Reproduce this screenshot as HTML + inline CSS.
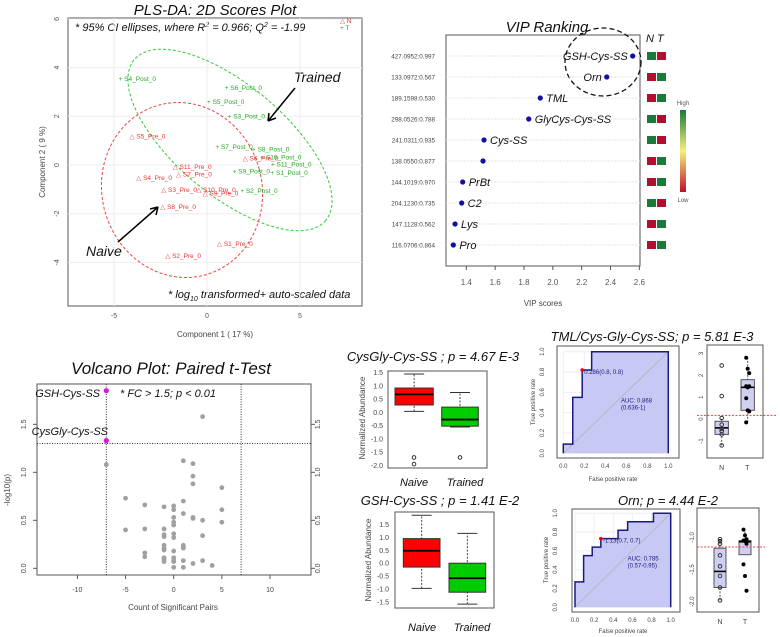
<!DOCTYPE html>
<html><head><meta charset="utf-8"><style>
html,body{margin:0;padding:0;background:#fff;}
svg{display:block;font-family:"Liberation Sans",sans-serif;}
.t{font-style:italic;fill:#111;}
.tk{font-size:7px;fill:#555;}
.ax{font-size:8px;fill:#444;}
</style></head><body>
<svg id="fig" width="780" height="637" viewBox="0 0 780 637" xmlns="http://www.w3.org/2000/svg">
<!-- PLS-DA -->
<text x="215" y="15" text-anchor="middle" class="t" font-size="15">PLS-DA: 2D Scores Plot</text>
<rect x="68" y="18" width="294" height="288" fill="none" stroke="#555"/>
<text x="75" y="31" class="t" font-size="11">* 95% CI ellipses, where R<tspan dy="-4" font-size="7">2</tspan><tspan dy="4"> = 0.966; Q</tspan><tspan dy="-4" font-size="7">2</tspan><tspan dy="4"> = -1.99</tspan></text>
<text x="294" y="82" class="t" font-size="14">Trained</text>
<text x="86" y="256" class="t" font-size="14">Naive</text>
<text x="168" y="298" class="t" font-size="11">* log<tspan dy="3" font-size="7">10</tspan><tspan dy="-3"> transformed+ auto-scaled data</tspan></text>
<text x="215" y="337" text-anchor="middle" class="ax">Component 1 ( 17 %)</text>
<text transform="translate(45,162) rotate(-90)" text-anchor="middle" class="ax">Component 2 ( 9 %)</text>
<text x="226" y="323" text-anchor="middle" fill="#333" font-size="7" font-style="italic"></text>
<!-- VIP -->
<text x="547" y="32" text-anchor="middle" class="t" font-size="15">VIP Ranking</text>
<rect x="446" y="35" width="194" height="231" fill="none" stroke="#555"/>
<text x="646" y="42" class="t" font-size="11">N  T</text>
<text x="543" y="306" text-anchor="middle" class="ax">VIP scores</text>
<defs><linearGradient id="cb" x1="0" y1="0" x2="0" y2="1"><stop offset="0" stop-color="#1a7a3a"/><stop offset="0.5" stop-color="#f4f27a"/><stop offset="1" stop-color="#c0102a"/></linearGradient></defs>
<rect x="680" y="110" width="6" height="82" fill="url(#cb)"/>
<text x="683" y="105" text-anchor="middle" font-size="6" fill="#555">High</text>
<text x="683" y="202" text-anchor="middle" font-size="6" fill="#555">Low</text>
<ellipse cx="603" cy="62" rx="38" ry="34" fill="none" stroke="#111" stroke-width="1.3" stroke-dasharray="5,3"/>
<!-- Volcano -->
<text x="171" y="374" text-anchor="middle" class="t" font-size="17">Volcano Plot: Paired t-Test</text>
<rect x="37" y="384" width="274" height="191" fill="none" stroke="#555"/>
<text x="120" y="397" class="t" font-size="11">* FC &gt; 1.5; p &lt; 0.01</text>
<text x="100" y="397" text-anchor="end" class="t" font-size="11">GSH-Cys-SS</text>
<text x="108" y="435" text-anchor="end" class="t" font-size="11">CysGly-Cys-SS</text>
<text x="173" y="610" text-anchor="middle" class="ax">Count of Significant Pairs</text>
<text transform="translate(10,490) rotate(-90)" text-anchor="middle" class="ax">-log10(p)</text>
<!-- Boxplots -->
<text x="433" y="361" text-anchor="middle" class="t" font-size="13">CysGly-Cys-SS ; p = 4.67 E-3</text>
<rect x="388" y="371" width="99" height="97" fill="none" stroke="#555"/>
<text transform="translate(365,418) rotate(-90)" text-anchor="middle" class="ax">Normalized Abundance</text>
<text x="414" y="486" text-anchor="middle" class="t" font-size="11">Naive</text>
<text x="465" y="486" text-anchor="middle" class="t" font-size="11">Trained</text>
<text x="440" y="505" text-anchor="middle" class="t" font-size="13">GSH-Cys-SS ; p = 1.41 E-2</text>
<rect x="395" y="512" width="99" height="96" fill="none" stroke="#555"/>
<text transform="translate(371,560) rotate(-90)" text-anchor="middle" class="ax">Normalized Abundance</text>
<text x="422" y="631" text-anchor="middle" class="t" font-size="11">Naive</text>
<text x="472" y="631" text-anchor="middle" class="t" font-size="11">Trained</text>
<!-- ROC -->
<text x="652" y="341" text-anchor="middle" class="t" font-size="13">TML/Cys-Gly-Cys-SS; p = 5.81 E-3</text>
<rect x="557" y="346" width="122" height="112" fill="none" stroke="#555"/>
<text x="613" y="481" text-anchor="middle" font-size="6" fill="#444">False positive rate</text>
<text transform="translate(535,402) rotate(-90)" text-anchor="middle" font-size="6" fill="#444">True positive rate</text>
<rect x="707" y="345" width="56" height="113" fill="none" stroke="#555"/>
<text x="668" y="505" text-anchor="middle" class="t" font-size="13">Orn; p = 4.44 E-2</text>
<rect x="572" y="509" width="108" height="103" fill="none" stroke="#555"/>
<text x="623" y="633" text-anchor="middle" font-size="6" fill="#444">False positive rate</text>
<text transform="translate(548,560) rotate(-90)" text-anchor="middle" font-size="6" fill="#444">True positive rate</text>
<rect x="697" y="508" width="62" height="104" fill="none" stroke="#555"/>
<g id="marks"></g>
</svg>
<script>
const NS='http://www.w3.org/2000/svg';
const G=document.getElementById('marks');
// ---------- PLS-DA data ----------
const plsNames=['S4','S6','S5','S3','S7','S8','S10','S11','S9','S1','S2'];
const postX=[-4.59,1.11,0.16,1.27,0.61,2.58,3.03,3.6,1.54,3.57,1.95];
const postY=[3.56,3.18,2.6,2.02,0.77,0.66,0.32,0.04,-0.25,-0.3,-1.05];
const preNames=['S5','S11','S7','S4','S3','S10','S9','S8','S1','S2','S6'];
const preX=[-4.0,-1.68,-1.5,-3.64,-2.3,-0.41,-0.07,-2.35,0.7,-2.08,2.08];
const preY=[1.19,-0.07,-0.36,-0.51,-1.01,-1.01,-1.16,-1.7,-3.22,-3.71,0.29];
const plsXTicks=[-5,0,5];
const plsYTicks=[6,4,2,0,-2,-4];
// ---------- VIP data ----------
const vipIds=['427.0952:0.997','133.0972:0.567','189.1598:0.530','298.0526:0.788','241.0311:0.935','138.0550:0.877','144.1019:0.970','204.1230:0.735','147.1128:0.562','116.0706:0.864'];
const vipScores=[2.554,2.374,1.913,1.833,1.523,1.516,1.375,1.368,1.322,1.31];
const vipLabels=['GSH-Cys-SS','Orn','TML','GlyCys-Cys-SS','Cys-SS','','PrBt','C2','Lys','Pro'];
const vipNHigh=[1,0,0,1,1,0,0,1,0,0];
const vipTicks=[1.4,1.6,1.8,2.0,2.2,2.4,2.6];
// ---------- Volcano data ----------
const volX=[3,-7,1,2,2,2,5,-5,1,-3,-1,0,0,5,1,0,2,2,3,0,0,5,-5,-3,-1,0,-1,-1,0,3,-1,-1,-1,1,1,1,0,-3,-3,-1,-1,-1,0,0,0,1,2,3,4,0,1];
const volY=[1.58,1.08,1.12,1.09,0.96,0.88,0.84,0.73,0.70,0.66,0.64,0.65,0.61,0.61,0.57,0.53,0.53,0.52,0.50,0.48,0.45,0.48,0.40,0.41,0.41,0.36,0.35,0.33,0.32,0.34,0.24,0.21,0.19,0.24,0.22,0.21,0.18,0.16,0.12,0.11,0.09,0.07,0.11,0.08,0.07,0.08,0.05,0.08,0.03,0.01,0.01];
const sigX=[-7,-7];
const sigY=[1.85,1.33];
const volXTicks=[-10,-5,0,5,10];
const volYTicks=[0,0.5,1.0,1.5];
// ---------- Boxplot data: [lowWhisker, Q1, median, Q3, highWhisker] ----------
const box1Naive=[0.04,0.28,0.68,0.92,1.45];
const box1Trained=[-0.55,-0.52,-0.27,0.2,0.75];
const box1NaiveOut=[-1.7,-1.95];
const box1TrainedOut=[-1.7];
const box1Ticks=[1.5,1.0,0.5,0.0,-0.5,-1.0,-1.5,-2.0];
const box2Naive=[-0.97,-0.15,0.48,0.95,1.85];
const box2Trained=[-1.58,-1.12,-0.58,0,1.15];
const box2Ticks=[1.5,1.0,0.5,0.0,-0.5,-1.0,-1.5];
// ---------- ROC data ----------
const roc1FPR=[0,0,0.09,0.09,0.18,0.18,0.27,0.27,1];
const roc1TPR=[0,0.09,0.09,0.55,0.55,0.82,0.82,1,1];
const roc2FPR=[0,0,0.09,0.09,0.18,0.18,0.27,0.27,0.45,0.45,0.55,0.55,0.82,0.82,1];
const roc2TPR=[0,0.27,0.27,0.55,0.55,0.64,0.64,0.73,0.73,0.82,0.82,0.91,0.91,1,1];
const rocTicks=[0,0.2,0.4,0.6,0.8,1.0];
// ---------- Strip data ----------
const strip1N=[2.45,1.05,0.05,-0.25,-0.45,-0.55,-0.7,-1.2];
const strip1T=[2.8,2.3,2.1,1.5,1.45,1.5,0.95,0.4,0.35,-0.15];
const strip1NBox=[-1.2,-0.7,-0.4,-0.1,0.05];
const strip1TBox=[-0.15,0.4,1.45,1.8,2.8];
const strip1Cut=[0.17];
const strip1Ticks=[3,2,1,0,-1];
const strip2N=[-1.03,-1.06,-1.1,-1.28,-1.45,-1.6,-1.78,-1.98];
const strip2T=[-0.88,-0.97,-1.03,-1.05,-1.06,-1.1,-1.42,-1.6,-1.83];
const strip2NBox=[-1.98,-1.78,-1.53,-1.17,-1.03];
const strip2TBox=[-1.27,-1.27,-1.07,-1.05,-0.88];
const strip2Cut=[-1.15];
const strip2Ticks=[-1.0,-1.5,-2.0];

function mk(tag,a){const e=document.createElementNS(NS,tag);for(const k in a)e.setAttribute(k,a[k]);G.appendChild(e);return e;}
function txt(x,y,s,a){const e=mk('text',Object.assign({x:x,y:y},a));e.textContent=s;return e;}

// scales
const sx=v=>207+18.6*v, sy=v=>165-24.35*v;
const vx=v=>466.3+(v-1.4)*144.2, vr=i=>56+i*21;
const wx=v=>173.7+9.63*v, wy=v=>568.3-96*v;
const b1y=v=>412.4-26.5*v, b2y=v=>563.2-25.9*v;
const r1x=v=>563.3+105*v, r1y=v=>453.3-101.6*v;
const r2x=v=>575+95.7*v, r2y=v=>607.3-94*v;
const s1y=v=>419.1-21.9*v, s2y=v=>537.3-(v+1)*64.4;

// ===== PLS-DA =====
plsXTicks.forEach(t=>{
  const l=mk('line',{x1:sx(t),x2:sx(t),y1:18,y2:306,stroke:'#eee'});
  
  
  const k=txt(sx(t),318,String(t),{'text-anchor':'middle',class:'tk'});
  
  
});
plsYTicks.forEach(t=>{
  const l=mk('line',{x1:68,x2:362,y1:sy(t),y2:sy(t),stroke:'#eee'});
  
  
  const k=txt(0,0,String(t),{'text-anchor':'middle',class:'tk',transform:`translate(59,${sy(t)}) rotate(-90)`});
  
  
});
const eg=mk('ellipse',{cx:230,cy:140,rx:125,ry:55,transform:'rotate(40 230 140)',fill:'none',stroke:'#3c3','stroke-dasharray':'3,2'});


const er=mk('ellipse',{cx:182,cy:190,rx:80,ry:88,transform:'rotate(-15 182 190)',fill:'none',stroke:'#e44','stroke-dasharray':'3,2'});


postX.forEach((v,i)=>{
  const t=txt(sx(v)-3,sy(postY[i])+2.5,'+ '+plsNames[i]+'_Post_0',{'font-size':6.5,fill:'#2a2'});
  
  
});
preX.forEach((v,i)=>{
  const t=txt(sx(v)-3,sy(preY[i])+2.5,'\u25B3 '+preNames[i]+'_Pre_0',{'font-size':6.5,fill:'#e33'});
  
  
});
const a1=mk('path',{d:'M295 88 L268 121 M268 121 l1 -8 M268 121 l8 -3',stroke:'#000','stroke-width':1.5,fill:'none'});


const a2=mk('path',{d:'M118 242 L158 207 M158 207 l-8 2 M158 207 l-2 8',stroke:'#000','stroke-width':1.5,fill:'none'});


const lg1=txt(340,23,'\u25B3 N',{'font-size':6.5,fill:'#e33'});


const lg2=txt(340,30,'+ T',{'font-size':6.5,fill:'#2a2'});



// ===== VIP =====
vipTicks.forEach(t=>{
  const l=mk('line',{x1:vx(t),x2:vx(t),y1:266,y2:270,stroke:'#555'});
  
  
  const k=txt(vx(t),285,t.toFixed(1),{'text-anchor':'middle','font-size':8,fill:'#555'});
  
  
});
vipScores.forEach((v,i)=>{
  const y=vr(i);
  const gl=mk('line',{x1:446,x2:640,y1:y,y2:y,stroke:'#e6e6e6','stroke-dasharray':'2,1'});
  
  
  const id=txt(435,y+2.5,vipIds[i],{'text-anchor':'end','font-size':6.3,fill:'#444'});
  
  
  const c=mk('circle',{cx:vx(v),cy:y,r:2.6,fill:'#1010a0'});
  
  
  if(vipLabels[i]){
    const left=i<2;
    const lb=txt(left?vx(v)-5:vx(v)+6,y+4,vipLabels[i],{'text-anchor':left?'end':'start',class:'t','font-size':11});
    
    
  }
  const g='#1a7a3a', r='#b0102e';
  const n=mk('rect',{x:647,y:y-4,width:9,height:8,fill:vipNHigh[i]?g:r});
  
  
  const t=mk('rect',{x:657,y:y-4,width:9,height:8,fill:vipNHigh[i]?r:g});
  
  
});

// ===== Volcano =====
volXTicks.forEach(t=>{
  const l=mk('line',{x1:wx(t),x2:wx(t),y1:575,y2:579,stroke:'#555'});
  
  
  const k=txt(wx(t),592,String(t),{'text-anchor':'middle','font-size':7,fill:'#444'});
  
  
});
volYTicks.forEach(t=>{
  [[37,33,26],[311,315,320]].forEach(p=>{
    const l=mk('line',{x1:p[0],x2:p[1],y1:wy(t),y2:wy(t),stroke:'#555'});
    
    
    const k=txt(0,0,t.toFixed(1),{'text-anchor':'middle','font-size':7,fill:'#444',transform:`translate(${p[2]},${wy(t)}) rotate(-90)`});
    
    
  });
});
[-7,7].forEach(v=>{
  const l=mk('line',{x1:wx(v),x2:wx(v),y1:384,y2:575,stroke:'#333','stroke-dasharray':'1,1.5'});
  
  
});
const hl=mk('line',{x1:37,x2:311,y1:wy(1.3),y2:wy(1.3),stroke:'#333','stroke-dasharray':'1,1.5'});


volX.forEach((v,i)=>{
  const c=mk('circle',{cx:wx(v),cy:wy(volY[i]),r:2.4,fill:'#a0a0a0'});
  
  
});
sigX.forEach((v,i)=>{
  const c=mk('circle',{cx:wx(v),cy:wy(sigY[i]),r:2.6,fill:'#e010e0'});
  
  
});

// ===== Boxplots =====
function box(s,x0,x1,yf,fill,name){
  const cx=(x0+x1)/2;
  const w=mk('line',{x1:cx,x2:cx,y1:yf(s[0]),y2:yf(s[4]),stroke:'#444','stroke-dasharray':'2,1.5'});
  
  
  [s[0],s[4]].forEach(v=>{
    const c=mk('line',{x1:cx-10,x2:cx+10,y1:yf(v),y2:yf(v),stroke:'#333'});
    
    
  });
  const r=mk('rect',{x:x0,y:yf(s[3]),width:x1-x0,height:yf(s[1])-yf(s[3]),fill:fill,stroke:'#333'});
  
  
  const m=mk('line',{x1:x0,x2:x1,y1:yf(s[2]),y2:yf(s[2]),stroke:'#000','stroke-width':1.8});
  
  
}
function yTicks(arr,yf,x,name,dec){
  arr.forEach(t=>{
    const k=txt(x,yf(t)+2.5,t.toFixed(dec),{'text-anchor':'end','font-size':7,fill:'#444'});
    
    
  });
}
yTicks(box1Ticks,b1y,383,'box1-y-tick',1);
yTicks(box2Ticks,b2y,389,'box2-y-tick',1);
box(box1Naive,395,433.3,b1y,'#f00','box1-naive');
box(box1Trained,441.7,478.3,b1y,'#0c0','box1-trained');
box(box2Naive,403.3,440,b2y,'#f00','box2-naive');
box(box2Trained,449,485.7,b2y,'#0c0','box2-trained');
box1NaiveOut.forEach(v=>{
  const c=mk('circle',{cx:414,cy:b1y(v),r:1.8,fill:'none',stroke:'#333'});
  
  
});
box1TrainedOut.forEach(v=>{
  const c=mk('circle',{cx:460,cy:b1y(v),r:1.8,fill:'none',stroke:'#333'});
  
  
});

// ===== ROC =====
function roc(fx,ty,xf,yf,name,pt,lab,auc,ci,tyLab,txLab,ylx){
  rocTicks.forEach(t=>{
    const gx=mk('line',{x1:xf(t),x2:xf(t),y1:yf(0),y2:yf(1),stroke:'#eee'});
    
    
    const gy=mk('line',{x1:xf(0),x2:xf(1),y1:yf(t),y2:yf(t),stroke:'#eee'});
    
    
    const kx=txt(xf(t),txLab,t.toFixed(1),{'text-anchor':'middle','font-size':6,fill:'#444'});
    
    
    const ky=txt(0,0,t.toFixed(1),{'text-anchor':'middle','font-size':6,fill:'#444',transform:`translate(${ylx},${yf(t)}) rotate(-90)`});
    
    
  });
  let d='M'+xf(fx[0])+' '+yf(ty[0]);
  for(let i=1;i<fx.length;i++) d+=' L'+xf(fx[i])+' '+yf(ty[i]);
  const a=mk('path',{d:d+' L'+xf(1)+' '+yf(0)+' Z',fill:'#c8c8f4'});
  
  
  const dg=mk('line',{x1:xf(0),y1:yf(0),x2:xf(1),y2:yf(1),stroke:'#aaa','stroke-width':0.6});
  
  
  const l=mk('path',{d:d+' L'+xf(1)+' '+yf(0),fill:'none',stroke:'#1a1a80','stroke-width':1.5});
  
  
  const p=mk('circle',{cx:xf(pt[0]),cy:yf(pt[1]),r:1.8,fill:'#e00'});
  
  
  const pl=txt(xf(pt[0])+2,yf(pt[1])+4,lab,{'font-size':6,fill:'#1a1a80'});
  
  
  const au=txt(xf(0.55),yf(0.5),auc,{'font-size':6,fill:'#1a1a80'});
  
  
  const c=txt(xf(0.55),yf(0.5)+7,ci,{'font-size':6,fill:'#1a1a80'});
  
  
}
roc(roc1FPR,roc1TPR,r1x,r1y,'roc1',[0.18,0.82],'0.286(0.8, 0.8)','AUC: 0.868','(0.636-1)',0,468,544);
roc(roc2FPR,roc2TPR,r2x,r2y,'roc2',[0.27,0.73],'-1.13(0.7, 0.7)','AUC: 0.785','(0.57-0.95)',0,622,557);

// ===== Strips =====
function strip(yf,nv,tv,nb,tb,cut,nx,tx,hw,name,x0,x1){
  [[nb,nx],[tb,tx]].forEach(q=>{
    const s=q[0],cx=q[1];
    const w=mk('line',{x1:cx,x2:cx,y1:yf(s[0]),y2:yf(s[4]),stroke:'#555','stroke-dasharray':'2,1.5'});
    
    
    const r=mk('rect',{x:cx-hw,y:yf(s[3]),width:2*hw,height:yf(s[1])-yf(s[3]),fill:'#cfcff2',stroke:'#555'});
    
    
    const m=mk('line',{x1:cx-hw,x2:cx+hw,y1:yf(s[2]),y2:yf(s[2]),stroke:'#000','stroke-width':1.6});
    
    
  });
  nv.forEach(v=>{
    const c=mk('circle',{cx:nx,cy:yf(v),r:1.8,fill:'none',stroke:'#333'});
    
    
  });
  tv.forEach((v,i)=>{
    const c=mk('circle',{cx:tx+((i%3)-1)*1.5,cy:yf(v),r:2,fill:'#000'});
    
    
  });
  const l=mk('line',{x1:x0,x2:x1,y1:yf(cut[0]),y2:yf(cut[0]),stroke:'#e44','stroke-dasharray':'2,1.5'});
  
  
}
strip(s1y,strip1N,strip1T,strip1NBox,strip1TBox,strip1Cut,721.7,747.7,6.7,'strip1',697,777);
strip(s2y,strip2N,strip2T,strip2NBox,strip2TBox,strip2Cut,720,745,6,'strip2',697,765);
strip1Ticks.forEach(t=>{
  const k=txt(0,0,String(t),{'text-anchor':'middle','font-size':6,fill:'#444',transform:`translate(703,${s1y(t)}) rotate(-90)`});
  
  
});
strip2Ticks.forEach(t=>{
  const k=txt(0,0,t.toFixed(1),{'text-anchor':'middle','font-size':6,fill:'#444',transform:`translate(694,${s2y(t)}) rotate(-90)`});
  
  
});
[['N',721.7,470],['T',747.3,470],['N',720,624],['T',745,624]].forEach(q=>{
  const k=txt(q[1],q[2],q[0],{'text-anchor':'middle','font-size':7,fill:'#444'});
  
  
});
</script>
</body></html>
